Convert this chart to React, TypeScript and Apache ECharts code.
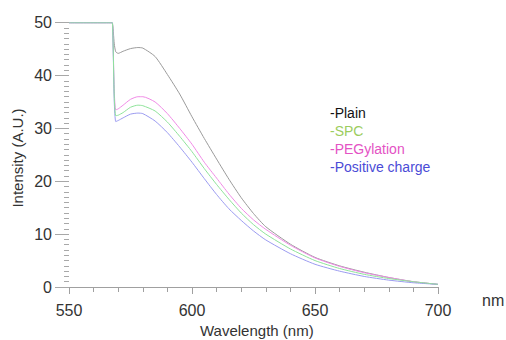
import React, { useEffect, useRef } from "react";
import * as echarts from "echarts";

const wavelengths = [550, 567, 567.6, 568.4, 569, 570, 572, 575, 578, 580, 585, 590, 595, 600, 605, 610, 615, 620, 625, 630, 640, 650, 660, 670, 680, 690, 700];
const plain =       [50, 50, 50, 46, 44.5, 44.2, 44.6, 45.1, 45.3, 45.2, 43.6, 40.2, 36.5, 32.2, 28.1, 24.2, 20.4, 16.9, 13.9, 11.4, 8.1, 5.6, 4.0, 2.8, 1.8, 1.0, 0.5];
const spc =         [50, 50, 50, 36, 32.4, 32.5, 33.0, 34.0, 34.4, 34.3, 33.3, 31.2, 28.5, 25.6, 22.4, 19.4, 16.6, 14.0, 11.8, 10.0, 7.2, 5.0, 3.5, 2.4, 1.6, 1.0, 0.5];
const peg =         [50, 50, 50, 37, 33.5, 33.7, 34.4, 35.5, 36.0, 36.0, 35.0, 32.8, 30.0, 27.0, 23.6, 20.6, 17.6, 14.9, 12.7, 10.9, 7.9, 5.5, 3.9, 2.7, 1.8, 1.0, 0.5];
const positive =    [50, 50, 50, 35, 31.3, 31.5, 32.0, 32.7, 32.9, 32.8, 31.4, 29.2, 26.5, 23.6, 20.5, 17.5, 14.8, 12.6, 10.6, 8.9, 6.3, 4.3, 3.0, 2.0, 1.3, 0.8, 0.5];

const seriesNames = ["Plain", "SPC", "PEGylation", "Positive charge"];
const lineColors = ["#9a9a9a", "#8fe39a", "#f08ae6", "#9b9bf0"];
const legendColors = ["#111111", "#9ccd5e", "#e452c4", "#4b4bd6"];
const seriesValues = [plain, spc, peg, positive];
const drawOrder = [0, 2, 3, 1];

export default function App() {
  const ref = useRef<HTMLDivElement>(null);
  useEffect(() => {
    if (!ref.current) return;
    const chart = echarts.init(ref.current, null, { renderer: "svg" });
    const series = drawOrder.map((i) => ({
      name: seriesNames[i],
      type: "line",
      data: wavelengths.map((w, k) => [w, seriesValues[i][k]]),
      showSymbol: false,
      smooth: 0.2,
      lineStyle: { width: 1, color: lineColors[i] },
      itemStyle: { color: lineColors[i] },
      z: 2,
    }));
    chart.setOption({
      animation: false,
      backgroundColor: "#ffffff",
      grid: { left: 69, right: 68, top: 22.7, bottom: 53, containLabel: false },
      legend: {
        orient: "vertical",
        left: 320,
        top: 101,
        icon: "none",
        itemWidth: 0,
        itemHeight: 14,
        itemGap: 4,
        selectedMode: false,
        formatter: "-{name}",
        data: seriesNames.map((n, i) => ({
          name: n,
          textStyle: { color: legendColors[i], fontSize: 14, fontFamily: "Liberation Sans, Arial, sans-serif" },
        })),
      },
      xAxis: {
        type: "value",
        min: 550,
        max: 700,
        interval: 50,
        splitLine: { show: false },
        axisLine: { show: true, lineStyle: { color: "#a0a0a0", width: 1 } },
        axisTick: { show: true, length: 7, lineStyle: { color: "#a0a0a0" } },
        minorTick: { show: true, splitNumber: 5, length: 5, lineStyle: { color: "#a0a0a0" } },
        axisLabel: { margin: 15, fontSize: 16, color: "#333", fontFamily: "Liberation Sans, Arial, sans-serif" },
      },
      yAxis: {
        type: "value",
        min: 0,
        max: 50,
        interval: 10,
        splitLine: { show: false },
        axisLine: { show: false },
        axisTick: { show: true, length: 14, lineStyle: { color: "#a8a8a8" } },
        minorTick: { show: true, splitNumber: 10, length: 5, lineStyle: { color: "#a8a8a8" } },
        axisLabel: { margin: 17, fontSize: 16, color: "#333", fontFamily: "Liberation Sans, Arial, sans-serif" },
      },
      graphic: [
        {
          type: "text",
          left: 200,
          top: 323,
          style: { text: "Wavelength (nm)", fontSize: 15, fill: "#333", fontFamily: "Liberation Sans, Arial, sans-serif" },
        },
        {
          type: "text",
          left: 482,
          top: 292,
          style: { text: "nm", fontSize: 16, fill: "#333", fontFamily: "Liberation Sans, Arial, sans-serif" },
        },
        {
          type: "text",
          x: 17,
          y: 158,
          rotation: Math.PI / 2,
          style: {
            text: "Intensity (A.U.)",
            fontSize: 15,
            fill: "#333",
            align: "center",
            verticalAlign: "middle",
            fontFamily: "Liberation Sans, Arial, sans-serif",
          },
        },
      ],
      series,
    });
    return () => chart.dispose();
  }, []);
  return <div ref={ref} style={{ width: 506, height: 340, position: "absolute", left: 0, top: 0 }} />;
}
